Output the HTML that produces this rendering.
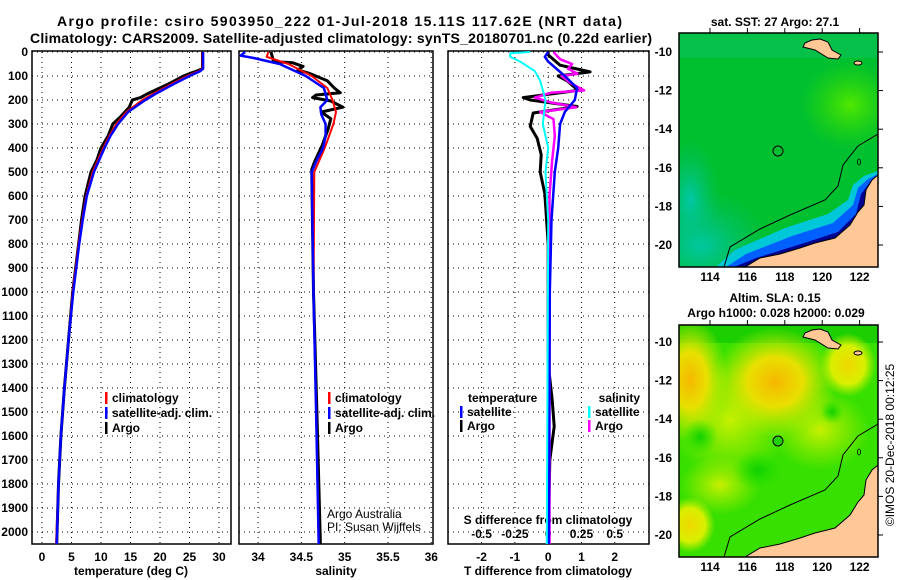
<!DOCTYPE html>
<html><head><meta charset="utf-8"><style>
body{margin:0;background:#fff;width:900px;height:580px;overflow:hidden}
svg{display:block;font-family:"Liberation Sans",sans-serif;font-weight:bold}
</style></head><body>
<svg id="s" width="900" height="580" viewBox="0 0 900 580">
<defs>
<radialGradient id="gY"><stop offset="0" stop-color="#f6b800"/><stop offset="0.45" stop-color="#e8e000"/><stop offset="1" stop-color="#c8f000" stop-opacity="0"/></radialGradient>
<radialGradient id="gL"><stop offset="0" stop-color="#f0d800"/><stop offset="0.6" stop-color="#d8f000"/><stop offset="1" stop-color="#c0f000" stop-opacity="0"/></radialGradient>
<radialGradient id="gLL"><stop offset="0" stop-color="#c8f000"/><stop offset="1" stop-color="#b0f000" stop-opacity="0"/></radialGradient>
<radialGradient id="gG"><stop offset="0" stop-color="#10d000"/><stop offset="1" stop-color="#20e000" stop-opacity="0"/></radialGradient>
<radialGradient id="gLime"><stop offset="0" stop-color="#50e800"/><stop offset="1" stop-color="#30d800" stop-opacity="0"/></radialGradient>
<radialGradient id="gTeal"><stop offset="0" stop-color="#00c8a8"/><stop offset="1" stop-color="#00c070" stop-opacity="0"/></radialGradient>
<clipPath id="c1"><rect x="679" y="33" width="199" height="234"/></clipPath>
<clipPath id="c2"><rect x="679" y="325" width="199" height="232"/></clipPath>
</defs>
<text x="57" y="26" font-size="14" textLength="565" lengthAdjust="spacing">Argo profile: csiro 5903950_222 01-Jul-2018 15.11S 117.62E (NRT data)</text>
<text x="30" y="43" font-size="14" textLength="622" lengthAdjust="spacing">Climatology: CARS2009. Satellite-adjusted climatology: synTS_20180701.nc (0.22d earlier)</text>
<g id="plots"></g>
<g id="maps"></g>
</svg>
<script>
// ---- profile data ----
const tArgoDepth=[0,70,80,90,100,130,175,190,200,230,270,300,350,400,450,500,600,700,800,1000,1200,1400,1600,1800,2050];
const tArgo=[27.2,27.2,26.2,25,24,21.7,17.8,16.7,15.3,14.8,13.3,12,11.2,10,9.3,8.3,7.3,6.7,6.2,5.2,4.5,3.8,3.2,2.8,2.5];
const tClimDepth=[0,70,80,100,130,175,200,250,300,350,400,500,600,700,800,1000,1200,1400,1600,1800,2050];
const tClim=[27.2,27.2,26.5,24.6,22.2,18.8,17,14.3,12.6,11.4,10.4,8.6,7.5,6.8,6.2,5.2,4.5,3.8,3.2,2.8,2.4];
const tSat=[27.3,27.3,26.8,25,22.6,19.2,17.5,14.6,12.9,11.6,10.6,8.8,7.6,6.9,6.3,5.3,4.5,3.8,3.2,2.8,2.5];
const sArgoDepth=[0,40,45,60,75,90,120,150,170,179,190,204,230,250,278,320,390,460,490,1000,1500,2050];
const sArgo=[34.15,34.18,34.4,34.52,34.46,34.6,34.8,34.88,34.95,34.67,34.63,34.84,34.98,34.73,34.84,34.81,34.74,34.65,34.62,34.64,34.68,34.72];
const sClimDepth=[0,20,50,100,150,200,250,300,400,500,1000,1500,2050];
const sClim=[34.12,34.1,34.35,34.62,34.8,34.86,34.9,34.87,34.77,34.65,34.64,34.67,34.7];
const sSatDepth=[0,15,25,50,100,150,200,230,260,300,350,400,450,500,1000,1500,2050];
const sSat=[33.85,33.8,33.95,34.25,34.55,34.76,34.8,34.72,34.73,34.78,34.78,34.75,34.68,34.62,34.64,34.67,34.7];
const dTArgoDepth=[0,12,55,83,100,120,160,190,200,227,254,310,360,428,500,590,800,1300,1450,1560,1700,2050];
const dTArgo=[0,0,0.36,1.26,0.3,0.57,0.9,-0.75,-0.54,0.87,-0.45,-0.54,-0.33,-0.21,-0.24,-0.1,0,0,0.12,0.18,0.05,0];
const dTSatDepth=[0,20,40,100,150,200,250,300,400,500,700,1000,2050];
const dTSat=[0,-0.1,0,0.5,0.87,0.8,0.5,0.36,0.3,0.2,0.1,0.05,0.02];
const dSSatDepth=[0,5,20,40,80,120,200,300,400,500,700,2050];
const dSSat=[-0.135,-0.285,-0.285,-0.21,-0.1,-0.06,-0.02,-0.04,0,-0.02,0,-0.01];
const dSArgoDepth=[0,30,50,70,90,100,130,160,170,190,210,230,250,280,350,450,600,2050];
const dSArgo=[0.04,0.09,0.18,0.15,0.22,0.1,0.17,0.27,0.02,-0.1,0.02,0.21,-0.06,0.04,0.05,0.03,0.01,0.01];
const depthTicks=[0,100,200,300,400,500,600,700,800,900,1000,1100,1200,1300,1400,1500,1600,1700,1800,1900,2000];
const tTicks=[0,5,10,15,20,25,30];
const sTicks=[34,34.5,35,35.5,36];
const sTickLabels=["34","34.5","35","35.5","36"];
const dTTicks=[-2,-1,0,1,2];
const dSTicks=[-0.5,-0.25,0,0.25,0.5];
const dSTickLabels=["-0.5","-0.25","0","0.25","0.5"];

const NS='http://www.w3.org/2000/svg';
const G=document.getElementById('plots');
function mk(tag,attrs,parent,txt){const e=document.createElementNS(NS,tag);for(const k in attrs)e.setAttribute(k,attrs[k]);if(txt!==undefined)e.textContent=txt;(parent||G).appendChild(e);return e;}
const Y0=52,YS=0.24,YB=544;
function yD(d){return Y0+d*YS;}
const P1={x0:32,x1:231,v0:-1.69,v1:32.03};
const P2={x0:239,x1:433,v0:33.78,v1:36.02};
const P3={x0:448,x1:649,v0:-3.01,v1:3.03};
function sx(p,v){return p.x0+(v-p.v0)/(p.v1-p.v0)*(p.x1-p.x0);}
function sxS(v){return sx(P3,v*4);}

function frame(p,name,vt){
  const g=mk('g',{});
  
  
  depthTicks.forEach(d=>{const l=mk('line',{x1:p.x0,x2:p.x1,y1:yD(d),y2:yD(d),stroke:'#000','stroke-width':1,'stroke-dasharray':'1,4'},g);
    });
  vt.forEach(v=>{const x=sx(p,v);const l=mk('line',{x1:x,x2:x,y1:Y0,y2:YB,stroke:'#000','stroke-width':1,'stroke-dasharray':'1,4'},g);
    });
  const r=mk('rect',{x:p.x0,y:Y0-1,width:p.x1-p.x0,height:YB-Y0+1,fill:'none',stroke:'#000','stroke-width':1.5},g);
  
  return g;
}
function line(depths,vals,fx,color,w,name){
  const pts=depths.map((d,i)=>fx(vals[i]).toFixed(1)+','+yD(d).toFixed(1)).join(' ');
  const l=mk('polyline',{points:pts,fill:'none',stroke:color,'stroke-width':w,'stroke-linejoin':'round'});
  
  
}
function txt(x,y,s,anchor,size,name){const t=mk('text',{x:x,y:y,'text-anchor':anchor,'font-size':size},G,s);
  return t;}

frame(P1,'temperature-panel',tTicks);
frame(P2,'salinity-panel',sTicks);
frame(P3,'difference-panel',dTTicks);
depthTicks.forEach(d=>txt(28,yD(d)+4,String(d),'end',12,'depth-tick-label'));
tTicks.forEach(v=>txt(sx(P1,v),561,String(v),'middle',12,'temp-tick-label'));
sTicks.forEach((v,i)=>txt(sx(P2,v),561,sTickLabels[i],'middle',12,'sal-tick-label'));
dTTicks.forEach(v=>txt(sx(P3,v),561,String(v),'middle',12,'tdiff-tick-label'));
dSTicks.forEach((v,i)=>txt(sxS(v),538,dSTickLabels[i],'middle',12,'sdiff-tick-label'));
txt(548,524,'S difference from climatology','middle',12,'sdiff-axis-title');
txt(131,575,'temperature (deg C)','middle',12,'temp-axis-title');
txt(336,575,'salinity','middle',12,'sal-axis-title');
txt(548,575,'T difference from climatology','middle',12,'tdiff-axis-title');

// series
const f1=v=>sx(P1,v),f2=v=>sx(P2,v),f3=v=>sx(P3,v);
line(tArgoDepth,tArgo,f1,'#000',3,'temp-argo-line');
line(tClimDepth,tClim,f1,'#f00',2,'temp-clim-line');
line(tClimDepth,tSat,f1,'#00f',2.5,'temp-sat-line');
line(sArgoDepth,sArgo,f2,'#000',3,'sal-argo-line');
line(sClimDepth,sClim,f2,'#f00',2,'sal-clim-line');
line(sSatDepth,sSat,f2,'#00f',2.5,'sal-sat-line');
line(dTArgoDepth,dTArgo,f3,'#000',3,'tdiff-argo-line');
line(dSArgoDepth,dSArgo,sxS,'#f0f',2.5,'sdiff-argo-line');
line(dTSatDepth,dTSat,f3,'#00f',2.5,'tdiff-sat-line');
line(dSSatDepth,dSSat,sxS,'#0ff',2,'sdiff-sat-line');

// legends
function leg(x,y,color,label,name){
  const r=mk('rect',{x:x,y:y-10,width:2.5,height:12,fill:color});
  
  txt(x+7,y,label,'start',12,name);
}
leg(105,402,'#f00','climatology','legend-climatology');
leg(105,417,'#00f','satellite-adj. clim.','legend-satellite-adj');
leg(105,432,'#000','Argo','legend-argo');
leg(328,402,'#f00','climatology','legend2-climatology');
leg(328,417,'#00f','satellite-adj. clim.','legend2-satellite-adj');
leg(328,432,'#000','Argo','legend2-argo');
txt(468,402,'temperature','start',12,'legend-temperature-heading');
leg(460,416,'#00f','satellite','legend-t-satellite');
leg(460,430,'#000','Argo','legend-t-argo');
txt(640,402,'salinity','end',12,'legend-salinity-heading');
leg(588,416,'#0ff','satellite','legend-s-satellite');
leg(588,430,'#f0f','Argo','legend-s-argo');
const a1=txt(327,518,'Argo Australia','start',12,'credit-argo-australia');a1.setAttribute('font-weight','normal');
const a2=txt(327,531,'PI: Susan Wijffels','start',12,'credit-pi');a2.setAttribute('font-weight','normal');

// ---- maps ----
const M=document.getElementById('maps');
function mm(tag,attrs,parent,t){const e=document.createElementNS(NS,tag);for(const k in attrs)e.setAttribute(k,attrs[k]);if(t!==undefined)e.textContent=t;(parent||M).appendChild(e);return e;}
const landPts=[[878,175],[872,180],[866,190],[864,205],[858,212],[850,225],[835,238],[815,243],[800,248],[780,254],[760,258],[745,267],[878,267]];
const islandPts=[[805,43],[812,40],[820,39],[828,42],[832,50],[841,55],[838,59],[828,58],[815,50],[803,47]];
const shelfPts=[[724,267],[730,247],[760,229],[790,215],[825,200],[838,186],[843,165],[858,146],[878,134]];
function ptsStr(a,dy){return a.map(p=>p[0]+','+(p[1]+dy)).join(' ');}
function buildMap(dy,clip,kind,name){
  const g=mm('g',{'clip-path':'url(#'+clip+')'});
  
  if(kind==='sst'){
    mm('rect',{x:679,y:33,width:199,height:234,fill:'#00c030'},g);
    mm('rect',{x:679,y:33,width:199,height:25,fill:'#08c050',opacity:0.8},g);
    mm('ellipse',{cx:850,cy:105,rx:50,ry:45,fill:'url(#gLime)'},g);
    mm('ellipse',{cx:700,cy:245,rx:70,ry:55,fill:'url(#gTeal)'},g);
    mm('ellipse',{cx:690,cy:200,rx:30,ry:60,fill:'url(#gTeal)'},g);
    mm('polygon',{points:ptsStr([[716,267],[735,250],[785,228],[828,214],[848,200],[853,185],[864,176],[878,171],[878,267]],0),fill:'#00c8d8'},g);
    mm('polygon',{points:ptsStr([[726,267],[746,254],[792,236],[833,223],[853,205],[858,188],[868,179],[878,174],[878,267]],0),fill:'#0060ff'},g);
    mm('polygon',{points:ptsStr([[734,267],[756,258],[798,245],[838,232],[856,214],[861,194],[871,181],[878,176],[878,267]],0),fill:'#000090'},g);
  } else {
    mm('rect',{x:679,y:325,width:199,height:232,fill:'#38e000'},g);
    mm('rect',{x:679,y:325,width:199,height:18,fill:'#10c800',opacity:0.7},g);
    mm('ellipse',{cx:730,cy:420,rx:60,ry:60,fill:'url(#gLL)'},g);
    mm('ellipse',{cx:820,cy:430,rx:50,ry:40,fill:'url(#gLL)'},g);
    mm('ellipse',{cx:775,cy:382,rx:62,ry:55,fill:'url(#gY)'},g);
    mm('ellipse',{cx:690,cy:380,rx:38,ry:62,fill:'url(#gY)'},g);
    mm('ellipse',{cx:690,cy:525,rx:25,ry:28,fill:'url(#gL)'},g);
    mm('ellipse',{cx:848,cy:365,rx:28,ry:32,fill:'url(#gL)'},g);
    mm('ellipse',{cx:720,cy:485,rx:40,ry:30,fill:'url(#gLL)'},g);
    mm('ellipse',{cx:700,cy:437,rx:18,ry:18,fill:'url(#gG)'},g);
    mm('ellipse',{cx:758,cy:470,rx:25,ry:20,fill:'url(#gG)'},g);
    mm('ellipse',{cx:832,cy:412,rx:12,ry:12,fill:'url(#gG)'},g);
  }
  mm('polyline',{points:ptsStr(shelfPts,dy),fill:'none',stroke:'#000','stroke-width':1},g);
  mm('polygon',{points:ptsStr(landPts,dy),fill:'#ffc896',stroke:'#000','stroke-width':1},g);
  mm('polygon',{points:ptsStr(islandPts,dy),fill:'#ffc896',stroke:'#000','stroke-width':1},g);
  mm('ellipse',{cx:858,cy:63+dy,rx:4,ry:2,fill:'#ffc896',stroke:'#000'},g);
  mm('ellipse',{cx:859,cy:162+dy,rx:1.5,ry:3,fill:'none',stroke:'#000','stroke-width':0.8},g);
  const c=mm('circle',{cx:778,cy:151+dy,r:5,fill:kind==='sst'?'none':'#20d000',stroke:'#000','stroke-width':1},g);
  
  const fr=mm('rect',{x:679,y:(kind==='sst'?33:325),width:199,height:(kind==='sst'?234:232),fill:'none',stroke:'#000','stroke-width':1.5});
  
}
buildMap(0,'c1','sst','sst-map');
buildMap(290,'c2','sla','sla-map');
const latTicks=[-10,-12,-14,-16,-18,-20];
const lonTicks=[114,116,118,120,122];
function latY(l){return 52+(-10-l)*19.3;}
function lonX(l){return 710+(l-114)*18.7;}
[[0,281],[290,571]].forEach(([dy,ly])=>{
  latTicks.forEach(l=>{
    const t=mm('text',{x:672,y:latY(l)+dy+4,'text-anchor':'end','font-size':12},M,String(l));
    
    mm('line',{x1:878,x2:883,y1:latY(l)+dy,y2:latY(l)+dy,stroke:'#000'});
  });
  lonTicks.forEach(l=>{
    const t=mm('text',{x:lonX(l),y:ly,'text-anchor':'middle','font-size':12},M,String(l));
    
    mm('line',{x1:lonX(l),x2:lonX(l),y1:(dy?325:33),y2:(dy?320:28),stroke:'#000'});
  });
});
function mt(x,y,s,name){const t=mm('text',{x:x,y:y,'text-anchor':'middle','font-size':12},M,s);return t;}
mt(775,26,'sat. SST: 27 Argo: 27.1','sst-map-title');
mt(775,302,'Altim. SLA: 0.15','sla-map-title');
mt(776,317,'Argo h1000: 0.028 h2000: 0.029','argo-height-title');
const cp=mm('text',{x:0,y:0,'text-anchor':'middle','font-size':12,'font-weight':'normal',transform:'translate(894,445) rotate(-90)'},M,'©IMOS 20-Dec-2018 00:12:25');

</script>
</body></html>
